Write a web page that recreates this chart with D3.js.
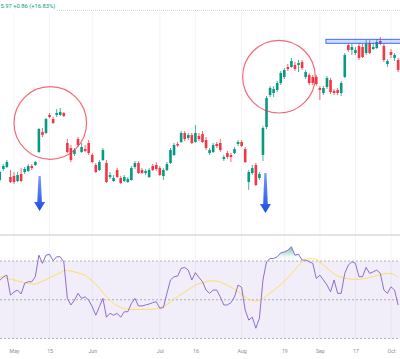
<!DOCTYPE html>
<html><head><meta charset="utf-8">
<script src="https://cdn.jsdelivr.net/npm/d3@7"></script>
<style>html,body{margin:0;padding:0;background:#fff;overflow:hidden}</style>
</head><body><svg id="c" width="400" height="359"></svg>
<script>
// ---- data ----
const opens  = [4.40,4.62,4.66,4.46,4.48,4.38,4.52,4.56,4.58,4.68,4.70,4.96,5.36,5.34,5.70,5.62,5.70,5.70,5.74,5.14,
5.04,4.92,5.22,4.96,5.02,5.14,4.90,4.70,4.60,4.80,4.74,4.46,4.38,4.60,4.44,4.38,4.36,4.40,4.66,4.74,
4.60,4.54,4.46,4.68,4.70,4.64,4.48,4.60,4.74,4.90,5.12,5.16,5.34,5.24,5.30,5.16,5.28,5.32,5.20,4.94,
4.96,5.12,5.14,4.82,4.94,4.90,4.94,5.12,5.16,5.02,4.36,4.54,4.70,4.44,4.90,5.46,6.10,6.14,6.20,6.34,
6.46,6.66,6.66,6.70,6.70,6.76,6.46,6.50,6.46,6.46,6.24,6.14,6.26,6.40,6.18,6.20,6.14,6.46,7.10,7.00,
6.94,7.08,7.06,6.94,7.14,7.02,7.04,7.18,7.08,6.72,6.96,6.84,6.80];
const highs  = [4.60,4.72,4.80,4.60,4.56,4.56,4.64,4.66,4.72,4.72,4.78,5.44,5.44,5.64,5.74,5.66,5.82,5.84,5.76,5.22,
5.10,5.04,5.26,5.14,5.10,5.20,4.94,4.74,4.80,5.04,4.80,4.56,4.50,4.64,4.48,4.50,4.46,4.68,4.78,4.78,
4.64,4.62,4.64,4.72,4.76,4.68,4.64,4.76,5.04,5.14,5.16,5.38,5.38,5.34,5.34,5.50,5.34,5.38,5.26,5.04,
5.14,5.16,5.22,4.90,4.98,4.94,5.06,5.20,5.20,5.06,4.60,4.70,4.74,4.56,5.48,6.08,6.28,6.28,6.38,6.58,
6.64,6.72,6.84,6.76,6.80,6.80,6.60,6.54,6.50,6.50,6.28,6.28,6.48,6.44,6.22,6.24,6.38,6.94,7.14,7.12,
7.06,7.14,7.12,7.20,7.20,7.14,7.22,7.26,7.12,6.82,7.02,6.94,6.84];
const lows   = [4.36,4.58,4.64,4.34,4.32,4.36,4.36,4.52,4.56,4.60,4.68,4.94,5.26,5.32,5.64,5.52,5.66,5.68,5.66,4.94,
4.76,4.88,5.06,4.94,4.96,4.90,4.74,4.54,4.58,4.78,4.34,4.42,4.36,4.44,4.32,4.36,4.34,4.38,4.62,4.52,
4.52,4.50,4.44,4.58,4.58,4.48,4.40,4.58,4.72,4.88,5.06,5.14,5.18,5.20,5.12,5.14,5.18,5.14,5.00,4.90,
4.94,5.04,4.96,4.78,4.82,4.76,4.92,5.08,5.06,4.74,4.20,4.50,4.28,4.40,4.78,5.42,6.06,6.06,6.16,6.30,
6.42,6.58,6.64,6.58,6.56,6.60,6.42,6.30,6.30,6.28,6.00,6.10,6.22,6.12,6.10,6.10,6.08,6.44,6.96,6.90,
6.90,6.80,6.84,6.90,6.92,7.00,7.02,7.10,6.76,6.66,6.84,6.78,6.56];
const closes = [4.56,4.68,4.76,4.36,4.36,4.50,4.38,4.62,4.68,4.64,4.76,5.42,5.30,5.62,5.66,5.54,5.74,5.76,5.68,4.96,
4.80,5.00,5.10,5.06,4.98,4.94,4.76,4.56,4.76,5.00,4.36,4.50,4.44,4.46,4.34,4.46,4.42,4.64,4.74,4.54,
4.54,4.58,4.60,4.60,4.62,4.50,4.60,4.72,5.00,5.10,5.09,5.34,5.22,5.30,5.14,5.34,5.22,5.16,5.04,5.00,
5.10,5.08,5.00,4.86,4.86,4.86,5.02,5.16,5.08,4.76,4.56,4.64,4.30,4.52,5.44,6.04,6.24,6.22,6.34,6.54,
6.60,6.62,6.78,6.62,6.74,6.64,6.56,6.34,6.34,6.32,6.20,6.24,6.44,6.16,6.14,6.14,6.34,6.90,7.00,7.06,
7.00,6.84,6.86,7.12,6.94,7.06,7.16,7.12,6.80,6.78,6.90,6.90,6.60];
const rsi = [60,61.8,62.7,52.4,54,55,53,58.5,59.3,59.3,61.9,73,68.8,73,73.5,70.1,72.2,72.2,69.6,50.7,
47.3,49.8,53.3,50.7,51.5,49.8,46.4,42,46.4,50.7,41,43,42,43,41,43.8,43.8,48.1,50.7,46.8,
46.8,47.3,47.8,48.5,49,45.6,46,53.3,60.2,61.9,62.2,66.2,66.7,65.3,60.2,64,61.5,59.3,55,53.3,
55,55,51.5,47.3,47.3,48.5,51.5,57.6,56.4,44.7,39.5,41,35.3,40.4,60.2,69.6,71.3,71.3,72.2,74.2,
74.7,75.6,77.3,73,73.5,70.5,70.5,69.6,68.8,61,62.7,60.2,57.6,54.1,60.2,53.3,53.3,63.6,67.9,69.6,
68.8,61.9,61.9,66.7,63.6,64.4,65.3,63.6,55,53.3,56.7,55,47.3];
const rsiMA = [61.9,61.5,61.0,60.6,60.2,59.6,59.2,58.8,58.4,58.1,58.0,58.8,59.6,60.4,61.3,62.2,63.1,64.0,65.0,65.1,
64.8,64.4,63.9,63.3,62.6,61.3,59.7,58.0,56.0,53.6,51.6,49.8,48.0,46.8,46.1,45.4,45.1,45.0,45.0,45.0,
45.0,45.0,45.1,45.1,45.3,45.9,46.5,47.5,48.9,50.3,51.6,52.8,54.0,55.2,56.4,57.6,58.3,58.8,59.3,59.7,
59.8,59.6,59.2,58.3,57.4,56.5,55.3,54.0,52.8,51.5,50.2,49.5,49.2,49.6,50.6,52.0,53.3,54.8,56.3,57.8,
59.6,61.4,63.3,65.4,67.6,69.4,70.6,71.2,71.3,70.8,69.5,67.9,66.4,64.8,63.3,62.3,61.7,61.1,60.8,60.6,
60.5,60.6,60.8,61.1,61.5,61.9,62.4,62.9,63.4,63.6,63.4,62.9,61.6];
const tickIdx    = [4,14,26,45,55,68,80,90,100,110];
const tickLabels = ["May","15","Jun","Jul","16","Aug","19","Sep","17","Oct"];
const headerText = "5.97 +0.86 (+16.83%)";
const rsiLevels  = [70,50,30];
const arrowIdx   = [11.2,74.7];
const arrowTop   = [4.48,4.54];
const arrowTip   = [3.78,3.74];
const circleIdx  = [14.2,78.5];
const circlePrice= [5.54,6.466];
const boxStartIdx = 91.7, boxTopPrice = 7.214, boxBottomPrice = 7.134;

// ---- layout ----
const W = 400, H = 359;
const svg = d3.select("#c");
const x = d3.scaleLinear().domain([4,110]).range([14,391]);
const y = d3.scaleLinear().domain([4,8]).range([200,0]);
const yR = d3.scaleLinear().domain([30,70]).range([338.5,261]);
const mainH = 233, rsiTop = 236, rsiBottom = 340;
const green = "#089981", red = "#f23645";

const defs = svg.append("defs");
defs.append("clipPath").attr("id","mainClip").append("rect").attr("x",0).attr("y",12).attr("width",W).attr("height",mainH-12);
defs.append("clipPath").attr("id","rsiClip").append("rect").attr("x",0).attr("y",rsiTop).attr("width",W).attr("height",rsiBottom-rsiTop);
const grad = defs.append("linearGradient").attr("id","arrowGrad").attr("x1",0).attr("y1",0).attr("x2",0).attr("y2",1);
grad.append("stop").attr("offset","0%").attr("stop-color","#7a9dff");
grad.append("stop").attr("offset","100%").attr("stop-color","#1b4de6");
const obGrad = defs.append("linearGradient").attr("id","obGrad").attr("gradientUnits","userSpaceOnUse")
  .attr("x1",0).attr("x2",0).attr("y1",yR(70)).attr("y2",yR(76));
obGrad.append("stop").attr("offset","0%").attr("stop-color",green).attr("stop-opacity",0);
obGrad.append("stop").attr("offset","40%").attr("stop-color",green).attr("stop-opacity",0.06);
obGrad.append("stop").attr("offset","100%").attr("stop-color",green).attr("stop-opacity",0.45);

// grid
svg.append("g").selectAll("line").data(tickIdx).join("line")
  .attr("x1",d=>x(d)).attr("x2",d=>x(d)).attr("y1",12).attr("y2",rsiBottom)
  .attr("stroke","#f3f4f7").attr("stroke-width",1);

// header
svg.append("text").attr("x",0.5).attr("y",8.3).attr("font-family","Roboto, Arial, sans-serif")
  .attr("font-size",5.8).attr("fill",green).text(headerText);
svg.append("line").attr("x1",57).attr("x2",W).attr("y1",10.5).attr("y2",10.5)
  .attr("stroke","#cfd9d5").attr("stroke-width",1).attr("stroke-dasharray","1,1");

// candles
const idx = d3.range(opens.length);
const gMain = svg.append("g").attr("clip-path","url(#mainClip)");
const col = i => closes[i] >= opens[i] ? green : red;
gMain.append("g").selectAll("line").data(idx).join("line")
  .attr("x1",i=>x(i)).attr("x2",i=>x(i))
  .attr("y1",i=>y(highs[i])).attr("y2",i=>y(lows[i]))
  .attr("stroke",col).attr("stroke-opacity",0.75).attr("stroke-width",1);
gMain.append("g").selectAll("rect").data(idx).join("rect")
  .attr("x",i=>x(i)-1.3).attr("width",2.6)
  .attr("y",i=>y(Math.max(opens[i],closes[i])))
  .attr("height",i=>Math.max(1,Math.abs(y(opens[i])-y(closes[i]))))
  .attr("fill",col);

// box
gMain.append("rect").attr("x",x(boxStartIdx)).attr("y",y(boxTopPrice))
  .attr("width",W - x(boxStartIdx) + 5).attr("height",y(boxBottomPrice)-y(boxTopPrice))
  .attr("fill","rgba(41,98,255,0.22)").attr("stroke","#2962ff").attr("stroke-width",0.9);

// circles
gMain.append("g").selectAll("circle").data(circleIdx).join("circle")
  .attr("cx",d=>x(d)).attr("cy",(d,i)=>y(circlePrice[i])).attr("r",36.3)
  .attr("fill","none").attr("stroke","#f23645").attr("stroke-opacity",0.75).attr("stroke-width",1.2);

// arrows
gMain.append("g").selectAll("path").data(arrowIdx).join("path")
  .attr("d",(d,i)=>{
    const cx = x(d), t = y(arrowTop[i]), tip = y(arrowTip[i]), hs = tip - 9;
    return `M${cx-1.1},${t}L${cx+1.1},${t}L${cx+2.3},${hs}L${cx+5.5},${hs}L${cx},${tip}L${cx-5.5},${hs}L${cx-2.3},${hs}Z`;
  }).attr("fill","url(#arrowGrad)");

// pane separator
svg.append("rect").attr("x",0).attr("y",mainH+1).attr("width",W).attr("height",2).attr("fill","#e0e3eb");

// RSI pane
const gR = svg.append("g").attr("clip-path","url(#rsiClip)");
gR.append("rect").attr("x",0).attr("width",W).attr("y",yR(70)).attr("height",yR(30)-yR(70))
  .attr("fill","rgba(126,87,194,0.1)");
gR.append("g").selectAll("line").data(rsiLevels).join("line")
  .attr("x1",0).attr("x2",W).attr("y1",d=>yR(d)).attr("y2",d=>yR(d))
  .attr("stroke","#787b86").attr("stroke-opacity",0.55).attr("stroke-width",1).attr("stroke-dasharray","2,2");
gR.append("path").datum(idx)
  .attr("d",d3.area().x(i=>x(i)).y0(yR(70)).y1(i=>yR(Math.max(70,rsi[i]))).curve(d3.curveLinear))
  .attr("fill","url(#obGrad)");
gR.append("path").datum(idx)
  .attr("d",d3.line().x(i=>x(i)).y(i=>yR(rsiMA[i])))
  .attr("fill","none").attr("stroke","#fdd835").attr("stroke-opacity",0.75).attr("stroke-width",1);
gR.append("path").datum(idx)
  .attr("d",d3.line().x(i=>x(i)).y(i=>yR(rsi[i])))
  .attr("fill","none").attr("stroke","#7e57c2").attr("stroke-opacity",0.85).attr("stroke-width",1);

// x axis labels
const xAxis = d3.axisBottom(x).tickValues(tickIdx).tickFormat((d,i)=>tickLabels[i]).tickSize(0).tickPadding(0);
const ga = svg.append("g").attr("transform",`translate(0,${rsiBottom+9.5})`).call(xAxis);
ga.select(".domain").remove();
ga.selectAll("text").attr("font-family","Roboto, Arial, sans-serif").attr("font-size",5.2).attr("fill","#8a8d96");
</script></body></html>
